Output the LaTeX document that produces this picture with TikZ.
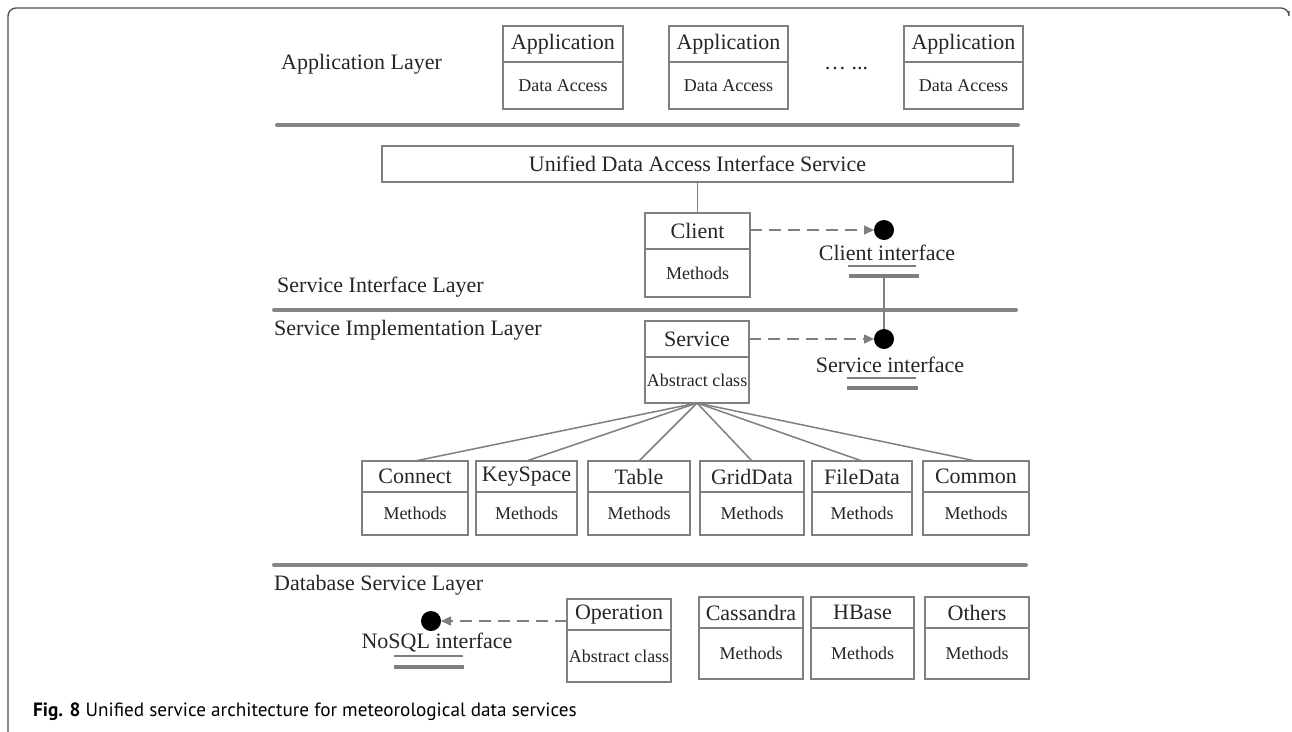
\documentclass[tikz,border=0pt]{standalone}
\usepackage{fontspec}
\setmainfont{Liberation Serif}
\newfontfamily\capfont{PT Sans}
\usetikzlibrary{arrows.meta}
\definecolor{edge}{HTML}{7F7F7F}
\definecolor{ink}{HTML}{262626}
\definecolor{rulec}{HTML}{858585}
\definecolor{framec}{HTML}{4D4D4D}
\newcommand\ttlfont{\fontsize{22}{26}\selectfont}
\newcommand\subfont{\fontsize{18}{22}\selectfont}
% UML class box: name, left, top, divider, bottom, right, title, body
\newcommand\umlbox[8]{%
  \node[umlhead, minimum width={#6-#2}, minimum height={#4-#3}] (#1) at (#2,#3) {#7};
  \node[umlbody, minimum width={#6-#2}, minimum height={#5-#4}] (#1-b) at (#2,#4) {#8};
}
\begin{document}
\begin{tikzpicture}[x=1pt,y=-1pt,
  umlhead/.style={draw=edge, line width=1.5pt, inner sep=0pt, outer sep=0pt,
    text=ink, font=\ttlfont, anchor=north west},
  umlbody/.style={umlhead, font=\subfont},
  layer/.style={text=ink, font=\ttlfont, anchor=base west, inner sep=0pt},
  sepline/.style={draw=rulec, line width=4pt, line cap=round},
  link/.style={draw=edge, line width=1.5pt},
  dep/.style={draw=edge, line width=1.5pt, dash pattern=on 12pt off 7pt,
    -{Triangle[length=10pt,width=9pt]}},
  port/.style={circle, fill=black, minimum size=20pt, inner sep=0pt, outer sep=0pt},
  ifname/.style={text=ink, font=\ttlfont, inner sep=0pt},
  thinbar/.style={draw=edge, line width=1.5pt},
  thickbar/.style={fill=edge, minimum height=4pt, inner sep=0pt, outer sep=0pt},
]
\useasboundingbox (0,0) rectangle (1292,731);
\fill[white] (0,0) rectangle (1292,731);

% figure frame
\draw[framec, line width=1.3pt, rounded corners=8pt] (8,735) |- (1289,8) -- (1289,11);

% ---------------- Application layer ----------------
\node[layer] (lapp) at (281,69) {Application Layer};
\umlbox{app1}{503}{26}{62}{109}{623}{Application}{Data Access}
\umlbox{app2}{669}{26}{62}{109}{788}{Application}{Data Access}
\umlbox{app3}{904}{26}{62}{109}{1023}{Application}{Data Access}
\node[text=ink, font=\ttlfont, anchor=base, inner sep=0pt] (dots) at (846,69) {\dots\ ...};
\draw[sepline] (277,125) -- (1018,125);

% ---------------- Service interface layer ----------------
\node[umlhead, minimum width=631, minimum height=36] (unified) at (382,146)
  {Unified Data Access Interface Service};
\umlbox{client}{645}{213}{249}{297}{750}{Client}{Methods}
\draw[link] (unified.south) -- (client.north);
\node[port] (cdot) at (884,230) {};
\draw[dep] (client.east |- cdot) -- (cdot);
\node[ifname] (ciname) at (887,253) {Client interface};
\draw[thinbar] (848,266) -- (916,266);
\node[thickbar, minimum width=70pt] (cibar) at (884,276) {};
\node[layer] (lsil) at (277,292) {Service Interface Layer};
\draw[sepline] (274,310) -- (1016,310);

% ---------------- Service implementation layer ----------------
\node[layer] (lsim) at (274,335) {Service Implementation Layer};
\umlbox{service}{645}{321}{357}{403}{749}{Service}{Abstract class}
\node[port] (sdot) at (884,339) {};
\draw[dep] (service.east) -- (sdot);
\draw[link] (cibar.south) -- (sdot.north);
\node[ifname] (siname) at (890,365) {Service interface};
\draw[thinbar] (847,378) -- (916,378);
\node[thickbar, minimum width=71pt] (sibar) at (882.5,388) {};

\umlbox{connect}{362}{461}{492}{535}{468}{Connect}{Methods}
\umlbox{keyspace}{476}{461}{492}{535}{577}{KeySpace}{Methods}
\umlbox{table}{588}{461}{492}{535}{690}{Table}{Methods}
\umlbox{griddata}{700}{461}{492}{535}{804}{GridData}{Methods}
\umlbox{filedata}{812}{461}{492}{535}{912}{FileData}{Methods}
\umlbox{common}{923}{461}{492}{535}{1029}{Common}{Methods}
\foreach \n in {connect,keyspace,table,griddata,filedata,common}
  \draw[link] (service-b.south) -- (\n.north);
\draw[sepline] (274,565) -- (1026,565);

% ---------------- Database service layer ----------------
\node[layer] (ldb) at (274,590) {Database Service Layer};
\umlbox{operation}{567}{599}{630}{682}{671}{Operation}{Abstract class}
\node[port] (ndot) at (431,621) {};
\draw[dep] (ndot -| operation.west) -- (ndot);
\node[ifname] (nsname) at (437,643) {NoSQL interface};
\draw[thinbar] (394,656) -- (463,656);
\node[thickbar, minimum width=70pt] (nsbar) at (429,667) {};
\umlbox{cassandra}{699}{597}{628}{679}{803}{Cassandra}{Methods}
\umlbox{hbase}{811}{597}{628}{679}{914}{HBase}{Methods}
\umlbox{others}{925}{597}{628}{679}{1029}{Others}{Methods}

% caption
\node[anchor=base west, inner sep=0pt, text=black, font=\capfont\fontsize{19.2}{22}\selectfont]
  (caption) at (33,716) {\textbf{Fig. 8} Unified service architecture for meteorological data services};
\end{tikzpicture}
\end{document}
